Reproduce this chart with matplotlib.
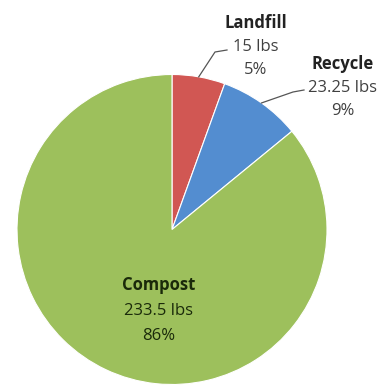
import numpy as np
import matplotlib.pyplot as plt

categories = ['Landfill', 'Recycle', 'Compost']
weights = [15, 23.25, 233.5]
weight_labels = ['15 lbs', '23.25 lbs', '233.5 lbs']
percent_labels = ['5%', '9%', '86%']
colors = ['#D15753', '#538DD0', '#9DC05C']

plt.rcParams['font.family'] = ['Open Sans', 'DejaVu Sans']

W, H = 383, 386
fig = plt.figure(figsize=(W / 100, H / 100), dpi=100)
ax = fig.add_axes([0, 0, 1, 1])

wedges, _ = ax.pie(weights, colors=colors, startangle=90, counterclock=False,
                   radius=1, wedgeprops=dict(linewidth=0.8, edgecolor='white'))

# pie centre / radius in pixels (limits set after pie, which resets them)
cx, cy, R = 172, 229.5, 155
ax.set_xlim(-cx / R, (W - cx) / R)
ax.set_ylim(-(H - cy) / R, cy / R)
ax.set_aspect('equal')
ax.axis('off')

def px(x, y):
    return ((x - cx) / R, (cy - y) / R)

fs = 12
# outside labels for the small slices: (text centre, elbow, line end)
label_pos = {0: ((256, 47), (215, 52), (227, 50)),
             1: ((343, 88), (293, 92), (304, 90))}
for i, (tpos, elbow, end) in label_pos.items():
    w = wedges[i]
    ang = np.deg2rad((w.theta1 + w.theta2) / 2)
    edge = (np.cos(ang), np.sin(ang))
    e1 = px(*elbow)
    e2 = px(*end)
    ax.plot([edge[0], e1[0], e2[0]], [edge[1], e1[1], e2[1]],
            color='#555555', lw=0.9)
    tx, ty = px(*tpos)
    ax.text(tx, ty + 24 / R, categories[i], ha='center', va='center',
            fontsize=fs, fontweight='bold', color='#222222')
    ax.text(tx, ty, weight_labels[i], ha='center', va='center',
            fontsize=fs, color='#404040')
    ax.text(tx, ty - 23 / R, percent_labels[i], ha='center', va='center',
            fontsize=fs, color='#404040')

# compost label inside
tx, ty = px(159, 311)
ax.text(tx, ty + 26 / R, categories[2], ha='center', va='center',
        fontsize=fs, fontweight='bold', color='#1a2a0a')
ax.text(tx, ty, weight_labels[2], ha='center', va='center',
        fontsize=fs, color='#1a2a0a')
ax.text(tx, ty - 25 / R, percent_labels[2], ha='center', va='center',
        fontsize=fs, color='#1a2a0a')

fig.savefig('out.png', dpi=100)
